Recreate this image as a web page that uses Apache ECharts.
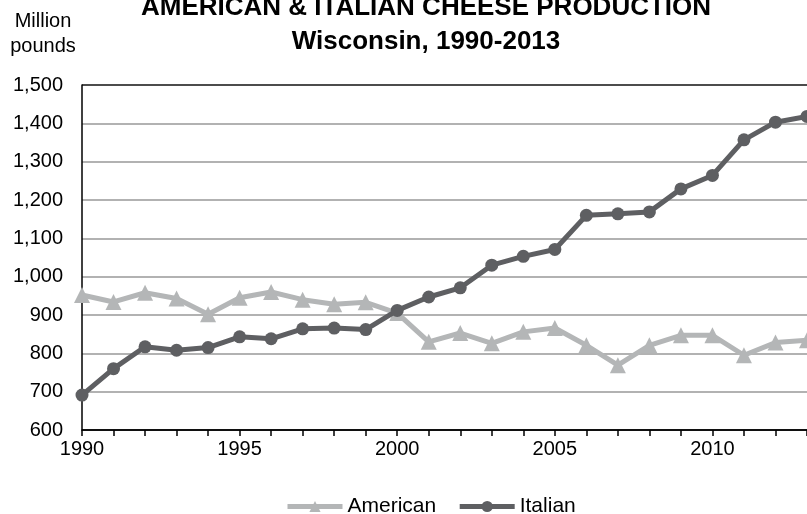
<!DOCTYPE html>
<html>
<head>
<meta charset="utf-8">
<script src="https://cdn.jsdelivr.net/npm/echarts@6/dist/echarts.min.js"></script>
<style>
	html, body { margin: 0; padding: 0; background: #fff; }
	#chart { width: 807px; height: 514px; }
</style>
</head>
<body>
<div id="chart"></div>
<script>
	// years on the x axis
	var years = [];
	for (var y = 1990; y <= 2013; y++) years.push(String(y));

	// million pounds
	var american = [952, 934, 958, 943, 902, 945, 960, 940, 928, 933, 905, 830, 853, 826, 856, 866, 821, 769, 821, 847, 847, 795, 828, 834];
	var italian = [691, 760, 817, 808, 815, 843, 838, 864, 866, 862, 912, 947, 971, 1030, 1053, 1071, 1160, 1164, 1169, 1229, 1264, 1357, 1403, 1418];

	var yTicks = [600, 700, 800, 900, 1000, 1100, 1200, 1300, 1400, 1500];

	var font = 'Liberation Sans, Arial, sans-serif';
	var myChart = echarts.init(document.getElementById('chart'));

	var option = {
		backgroundColor: '#fff',
		textStyle: { fontFamily: font },
		animation: false,
		title: [{
			text: 'AMERICAN & ITALIAN CHEESE PRODUCTION',
			left: 426,
			textAlign: 'center',
			top: -5,
			padding: 0,
			textStyle: { fontFamily: font, fontSize: 26, fontWeight: 'bold', color: '#000' }
		}, {
			text: 'Wisconsin, 1990-2013',
			left: 426,
			textAlign: 'center',
			top: 29,
			padding: 0,
			textStyle: { fontFamily: font, fontSize: 26, fontWeight: 'bold', color: '#000' }
		}, {
			text: 'Million\npounds',
			left: 43,
			textAlign: 'center',
			top: 9,
			padding: 0,
			textStyle: { fontFamily: font, fontSize: 20, fontWeight: 'normal', color: '#000', lineHeight: 25 }
		}],
		legend: {
			left: 280,
			top: 491,
			itemWidth: 55,
			itemHeight: 14,
			itemGap: 21,
			lineStyle: { width: 5 },
			textStyle: { fontFamily: font, fontSize: 21, color: '#000' },
			data: ['American', 'Italian']
		},
		grid: { left: 82, right: 0, top: 85, bottom: 84 },
		xAxis: {
			type: 'category',
			data: years,
			boundaryGap: false,
			axisLine: { lineStyle: { color: '#000', width: 1.5 } },
			axisTick: { show: true, interval: 0, length: 6, lineStyle: { color: '#000', width: 1.5 } },
			axisLabel: { interval: 4, color: '#000', fontSize: 20, margin: 9 },
			splitLine: { show: false }
		},
		yAxis: {
			type: 'value',
			min: yTicks[0],
			max: yTicks[yTicks.length - 1],
			interval: 100,
			axisLine: { show: true, lineStyle: { color: '#000', width: 1.5 } },
			axisTick: { show: false },
			axisLabel: {
				color: '#000', fontSize: 20, margin: 19,
				formatter: function (v) { return echarts.format.addCommas(v); }
			},
			splitLine: {
				lineStyle: {
					color: ['#000', '#999', '#999', '#999', '#999', '#999', '#999', '#999', '#999', '#111'],
					width: 1.5
				}
			}
		},
		series: [{
			name: 'American',
			type: 'line',
			data: american,
			symbol: 'triangle',
			symbolSize: 16,
			clip: false,
			lineStyle: { color: '#b4b6b7', width: 5 },
			itemStyle: { color: '#b4b6b7' },
			z: 2
		}, {
			name: 'Italian',
			type: 'line',
			data: italian,
			symbol: 'circle',
			symbolSize: 13,
			clip: false,
			lineStyle: { color: '#5e5f62', width: 5 },
			itemStyle: { color: '#5e5f62' },
			z: 3
		}]
	};

	myChart.setOption(option);
</script>
</body>
</html>
